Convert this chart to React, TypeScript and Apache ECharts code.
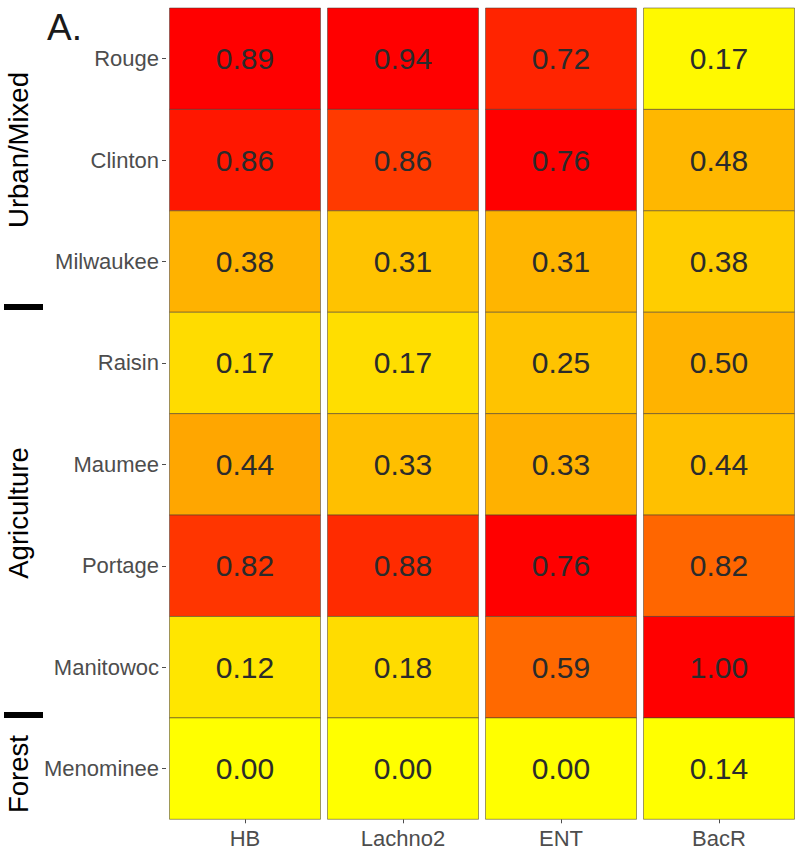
import React, { useEffect, useRef } from "react";
import * as echarts from "echarts";

const markers = ["HB", "Lachno2", "ENT", "BacR"];
const rivers = ["Rouge", "Clinton", "Milwaukee", "Raisin", "Maumee", "Portage", "Manitowoc", "Menominee"];
const hbValues = [0.89, 0.86, 0.38, 0.17, 0.44, 0.82, 0.12, 0.0];
const lachno2Values = [0.94, 0.86, 0.31, 0.17, 0.33, 0.88, 0.18, 0.0];
const entValues = [0.72, 0.76, 0.31, 0.25, 0.33, 0.76, 0.59, 0.0];
const bacrValues = [0.17, 0.48, 0.38, 0.5, 0.44, 0.82, 1.0, 0.14];
const groupLabels = ["Urban/Mixed", "Agriculture", "Forest"];
const panelLabel = "A.";

const columns = [hbValues, lachno2Values, entValues, bacrValues];

const FONT = '"Liberation Sans", Arial, sans-serif';

export default function App() {
  const ref = useRef<HTMLDivElement>(null);
  useEffect(() => {
    document.body.style.margin = "0";
    if (!ref.current) return;
    const chart = echarts.init(ref.current, null, { renderer: "svg" });

    // colour scale: per-column min-max normalisation (like a per-marker fill scale)
    const data: number[][] = [];
    columns.forEach((vals, ci) => {
      const mn = Math.min(...vals);
      const mx = Math.max(...vals);
      vals.forEach((v, ri) => {
        data.push([ci, ri, v, mx > mn ? (v - mn) / (mx - mn) : 0]);
      });
    });

    const GAP = 7;
    const option: any = {
      animation: false,
      backgroundColor: "#ffffff",
      grid: { left: 166, right: 2, top: 8, bottom: 34.7, containLabel: false },
      xAxis: {
        type: "category",
        data: markers,
        axisLine: { show: false },
        axisTick: { show: true, length: 4, lineStyle: { color: "#4d4d4d" }, alignWithLabel: true },
        axisLabel: { color: "#4d4d4d", fontSize: 22, fontFamily: FONT, margin: 8 },
        splitLine: { show: false },
      },
      yAxis: {
        type: "category",
        data: rivers,
        inverse: true,
        axisLine: { show: false },
        axisTick: { show: true, length: 4, lineStyle: { color: "#4d4d4d" }, alignWithLabel: true },
        axisLabel: { color: "#4d4d4d", fontSize: 22, fontFamily: FONT, margin: 7 },
        splitLine: { show: false },
      },
      visualMap: {
        show: false,
        type: "continuous",
        dimension: 3,
        min: 0,
        max: 1,
        seriesIndex: 0,
        inRange: {
          color: [
            "#FFFF00",
            "#FFE800",
            "#FFD200",
            "#FFBB00",
            "#FFA500",
            "#FF8C00",
            "#FF6E00",
            "#FF5500",
            "#FF0000",
          ],
        },
      },
      series: [
        {
          type: "custom",
          data,
          encode: { x: 0, y: 1 },
          renderItem: (params: any, api: any) => {
            const x = api.value(0);
            const y = api.value(1);
            const c = api.coord([x, y]);
            const size = api.size([1, 1]);
            const w = size[0] - GAP;
            const h = size[1];
            return {
              type: "group",
              children: [
                {
                  type: "rect",
                  shape: { x: c[0] - w / 2, y: c[1] - h / 2, width: w, height: h },
                  style: { fill: api.visual("color"), stroke: "rgba(70,60,50,0.75)", lineWidth: 0.7 },
                },
                {
                  type: "text",
                  x: c[0],
                  y: c[1],
                  style: {
                    text: Number(api.value(2)).toFixed(2),
                    fill: "#2b2b2b",
                    fontSize: 30,
                    fontFamily: FONT,
                    align: "center",
                    verticalAlign: "middle",
                  },
                },
              ],
            };
          },
        },
      ],
      graphic: [
        {
          type: "text",
          x: 47,
          y: 27,
          style: { text: panelLabel, fill: "#1a1a1a", fontSize: 37, fontFamily: FONT, verticalAlign: "middle" },
        },
        {
          type: "text",
          x: 18,
          y: 150,
          rotation: Math.PI / 2,
          style: { text: groupLabels[0], fill: "#000", fontSize: 27.5, fontFamily: FONT, align: "center", verticalAlign: "middle" },
        },
        {
          type: "text",
          x: 18,
          y: 513,
          rotation: Math.PI / 2,
          style: { text: groupLabels[1], fill: "#000", fontSize: 27.5, fontFamily: FONT, align: "center", verticalAlign: "middle" },
        },
        {
          type: "text",
          x: 18,
          y: 774,
          rotation: Math.PI / 2,
          style: { text: groupLabels[2], fill: "#000", fontSize: 27.5, fontFamily: FONT, align: "center", verticalAlign: "middle" },
        },
        { type: "rect", shape: { x: 4, y: 304, width: 39, height: 6 }, style: { fill: "#000" } },
        { type: "rect", shape: { x: 4, y: 712, width: 39, height: 6 }, style: { fill: "#000" } },
      ],
    };
    chart.setOption(option);
    return () => chart.dispose();
  }, []);
  return <div ref={ref} style={{ width: 800, height: 854, position: "absolute", left: 0, top: 0 }} />;
}
